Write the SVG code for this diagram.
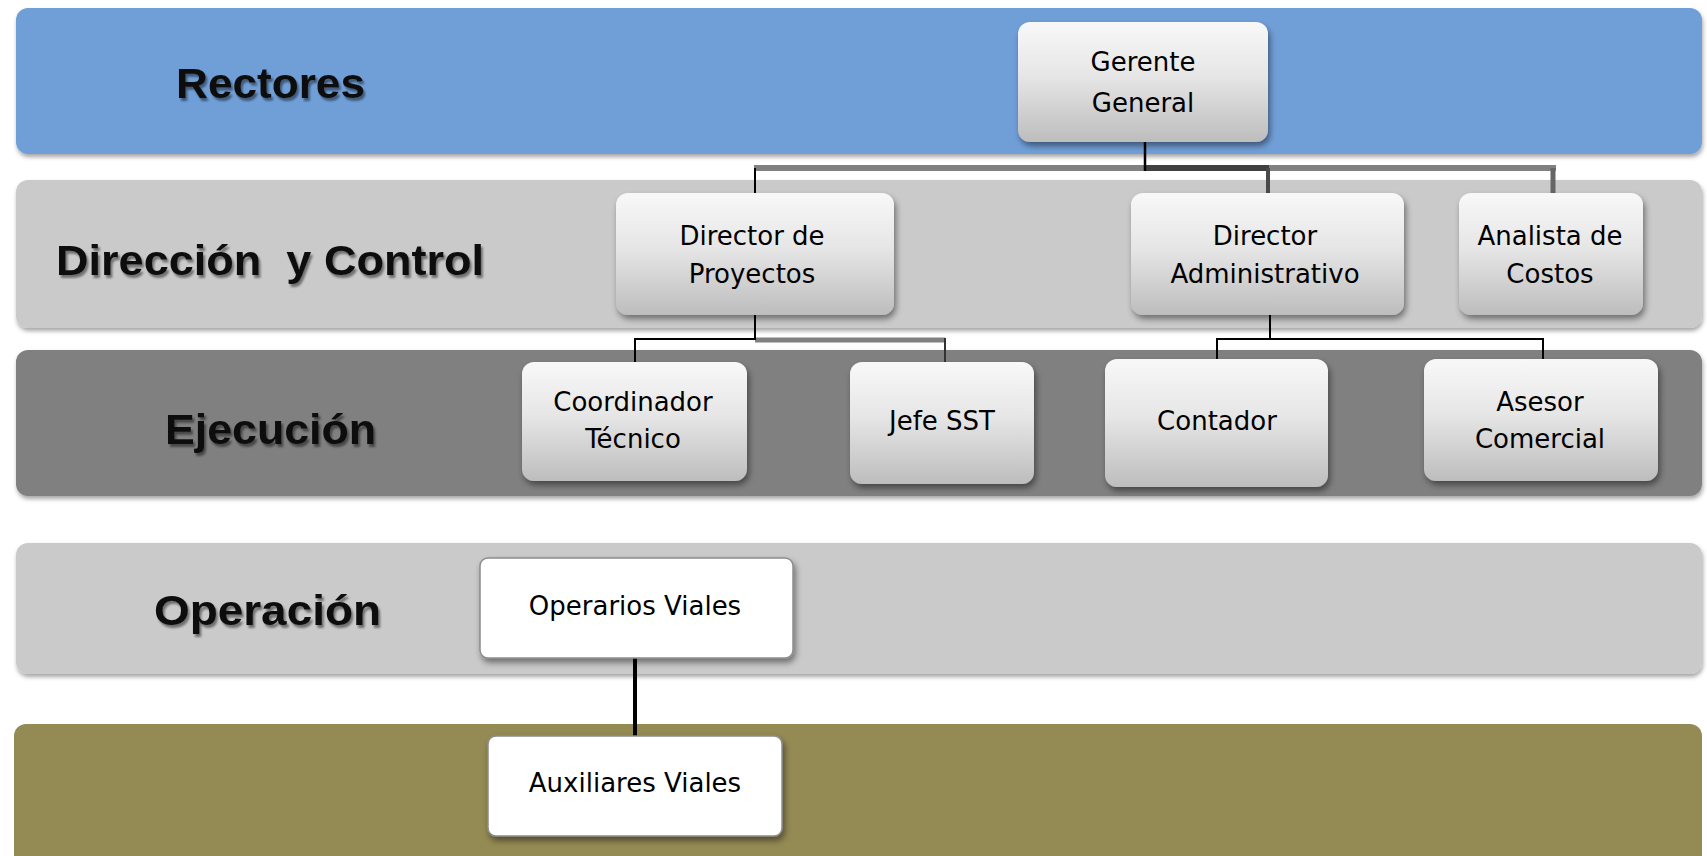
<svg xmlns="http://www.w3.org/2000/svg" width="1707" height="856" viewBox="0 0 1707 856">
<defs>
<linearGradient id="nodeGrad" x1="0" y1="0" x2="0" y2="1">
<stop offset="0" stop-color="#F8F8F8"/>
<stop offset="0.45" stop-color="#E6E6E6"/>
<stop offset="1" stop-color="#BDBDBD"/>
</linearGradient>
<filter id="bandShadow" x="-5%" y="-10%" width="110%" height="130%">
<feDropShadow dx="1" dy="3" stdDeviation="2" flood-color="#000" flood-opacity="0.35"/>
</filter>
<filter id="nodeShadow" x="-10%" y="-10%" width="125%" height="130%">
<feDropShadow dx="2" dy="4" stdDeviation="3" flood-color="#000" flood-opacity="0.45"/>
</filter>
<filter id="textShadow" x="-5%" y="-20%" width="115%" height="150%">
<feDropShadow dx="2" dy="3" stdDeviation="1.2" flood-color="#000" flood-opacity="0.45"/>
</filter>
</defs>
<style>
.band-title{font-family:"Liberation Sans",Arial,sans-serif;font-weight:bold;font-size:42px;fill:#111;filter:url(#textShadow);white-space:pre;}
.node-box{fill:url(#nodeGrad);filter:url(#nodeShadow);}
.node-white{fill:#FFFFFF;stroke:#8C8C8C;stroke-width:1.5;filter:url(#nodeShadow);}
.node-text{font-family:"DejaVu Sans",Verdana,sans-serif;font-size:26px;fill:#000;text-anchor:middle;}
.conn{fill:none;stroke:#000;stroke-width:2;}
</style>
<rect width="1707" height="856" fill="#FFFFFF"/>
<g id="bands">
<rect x="16" y="8" width="1686" height="146" rx="12" fill="#6F9FD8" filter="url(#bandShadow)"/>
<rect x="16" y="180" width="1686" height="148" rx="12" fill="#CACACA" filter="url(#bandShadow)"/>
<rect x="16" y="350" width="1686" height="146" rx="12" fill="#808080" filter="url(#bandShadow)"/>
<rect x="16" y="543" width="1686" height="131" rx="12" fill="#CACACA" filter="url(#bandShadow)"/>
<rect x="14" y="724" width="1688" height="150" rx="12" fill="#948A54"/>
<text class="band-title" x="176" y="98" textLength="189" lengthAdjust="spacingAndGlyphs">Rectores</text>
<text class="band-title" x="56" y="275" textLength="428" lengthAdjust="spacingAndGlyphs" xml:space="preserve">Dirección  y Control</text>
<text class="band-title" x="165" y="444" textLength="211" lengthAdjust="spacingAndGlyphs">Ejecución</text>
<text class="band-title" x="154" y="625" textLength="227" lengthAdjust="spacingAndGlyphs">Operación</text>
</g>
<g id="connectors">
<line x1="754" y1="168" x2="1556" y2="168" stroke="#808080" stroke-width="6"/>
<line x1="1145" y1="168" x2="1269" y2="168" stroke="#404040" stroke-width="6"/>
<line x1="1145" y1="142" x2="1145" y2="171" stroke="#000" stroke-width="2.5"/>
<line x1="755" y1="168" x2="755" y2="193" stroke="#000" stroke-width="2"/>
<line x1="1268" y1="168" x2="1268" y2="193" stroke="#4a4a4a" stroke-width="4"/>
<line x1="1553" y1="168" x2="1553" y2="193" stroke="#666" stroke-width="5"/>
<line x1="755" y1="340" x2="945" y2="340" stroke="#808080" stroke-width="5"/>
<path class="conn" d="M755,315 V339 H635 V362"/>
<line x1="945" y1="338" x2="945" y2="362" stroke="#333" stroke-width="2"/>
<path class="conn" d="M1270,315 V339"/>
<path class="conn" d="M1217,359 V339 H1543 V359" stroke-width="2.5"/>
<line x1="635" y1="658" x2="635" y2="736" stroke="#000" stroke-width="4"/>
</g>
<g id="node-gerente">
<rect class="node-box" x="1018" y="22" width="250" height="120" rx="12"/>
<text class="node-text" x="1143" y="71" font-size="30">Gerente</text>
<text class="node-text" x="1143" y="112" font-size="30">General</text>
</g>
<g id="node-director-proyectos">
<rect class="node-box" x="616" y="193" width="278" height="122" rx="12"/>
<text class="node-text" x="752" y="245">Director de</text>
<text class="node-text" x="752" y="283">Proyectos</text>
</g>
<g id="node-director-administrativo">
<rect class="node-box" x="1131" y="193" width="273" height="122" rx="12"/>
<text class="node-text" x="1265" y="245">Director</text>
<text class="node-text" x="1265" y="283">Administrativo</text>
</g>
<g id="node-analista-costos">
<rect class="node-box" x="1459" y="193" width="184" height="122" rx="12"/>
<text class="node-text" x="1550" y="245">Analista de</text>
<text class="node-text" x="1550" y="283">Costos</text>
</g>
<g id="node-coordinador-tecnico">
<rect class="node-box" x="522" y="362" width="225" height="119" rx="12"/>
<text class="node-text" x="633" y="411">Coordinador</text>
<text class="node-text" x="633" y="448">Técnico</text>
</g>
<g id="node-jefe-sst">
<rect class="node-box" x="850" y="362" width="184" height="122" rx="12"/>
<text class="node-text" x="942" y="430">Jefe SST</text>
</g>
<g id="node-contador">
<rect class="node-box" x="1105" y="359" width="223" height="128" rx="12"/>
<text class="node-text" x="1217" y="430">Contador</text>
</g>
<g id="node-asesor-comercial">
<rect class="node-box" x="1424" y="359" width="234" height="122" rx="12"/>
<text class="node-text" x="1540" y="411">Asesor</text>
<text class="node-text" x="1540" y="448">Comercial</text>
</g>
<g id="node-operarios-viales">
<rect class="node-white" x="480" y="558" width="313" height="100" rx="8"/>
<text class="node-text" x="635" y="615" font-size="24.5">Operarios Viales</text>
</g>
<g id="node-auxiliares-viales">
<rect class="node-white" x="488" y="736" width="294" height="100" rx="8"/>
<text class="node-text" x="635" y="792" font-size="24.5">Auxiliares Viales</text>
</g>
</svg>
